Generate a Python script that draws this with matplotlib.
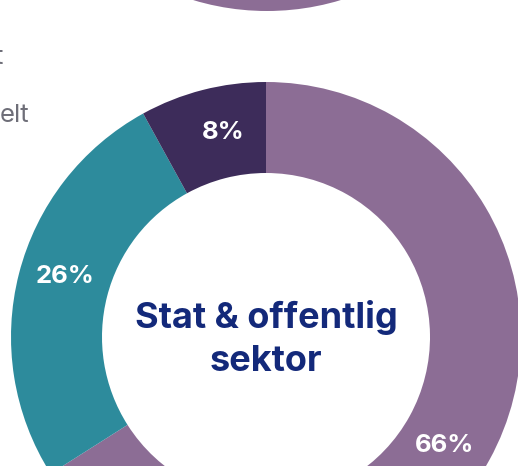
import matplotlib
matplotlib.use("Agg")
import matplotlib.pyplot as plt
import numpy as np

# Data
categories = ["Privat", "Offentlig", "Annet"]
values = [66, 26, 8]
labels = ["66%", "26%", "8%"]
colors = ["#8C6D95", "#2D8B9C", "#3D2C5A"]
center_title = "Stat & offentlig\nsektor"
top_values = [1]
top_colors = ["#8C6D95"]

W, H = 518, 466
fig = plt.figure(figsize=(W / 100, H / 100), dpi=100)
ax = fig.add_axes([0, 0, 1, 1])

cx, cy = 266, 129
R = 255
ring = 91

ax.pie(values, colors=colors, startangle=90, counterclock=False,
       center=(cx, cy), radius=R, frame=True,
       wedgeprops=dict(width=ring, linewidth=0))

# partial donut of chart above
ax.pie(top_values, colors=top_colors, startangle=90, counterclock=False,
       center=(267, 710), radius=R, frame=True,
       wedgeprops=dict(width=ring, linewidth=0))

# percentage labels
cum = 0
for v, lab in zip(values, labels):
    mid = 90 - 360 * (cum + v / 2) / 100 - 2.5
    r = R - ring / 2
    x = cx + r * np.cos(np.radians(mid))
    y = cy + r * np.sin(np.radians(mid))
    ax.text(x, y, lab, ha="center", va="center", color="white",
            fontsize=18.5, fontweight="bold", family="Inter")
    cum += v

ax.text(cx, cy - 2, center_title, ha="center", va="center", color="#13297A",
        fontsize=26, fontweight="bold", family="Inter", linespacing=1.35)

# legend text fragments at left (of neighbouring chart)
ax.text(0, 466 - 122, "elt", ha="left", va="baseline", color="#6E6E78",
        fontsize=18.5, family="Inter")
ax.text(3, 466 - 64, "t", ha="right", va="baseline", color="#6E6E78",
        fontsize=18.5, family="Inter")

ax.set_xlim(0, W)
ax.set_ylim(0, H)
ax.set_aspect("equal")
ax.axis("off")
fig.savefig("out.png", dpi=100)
